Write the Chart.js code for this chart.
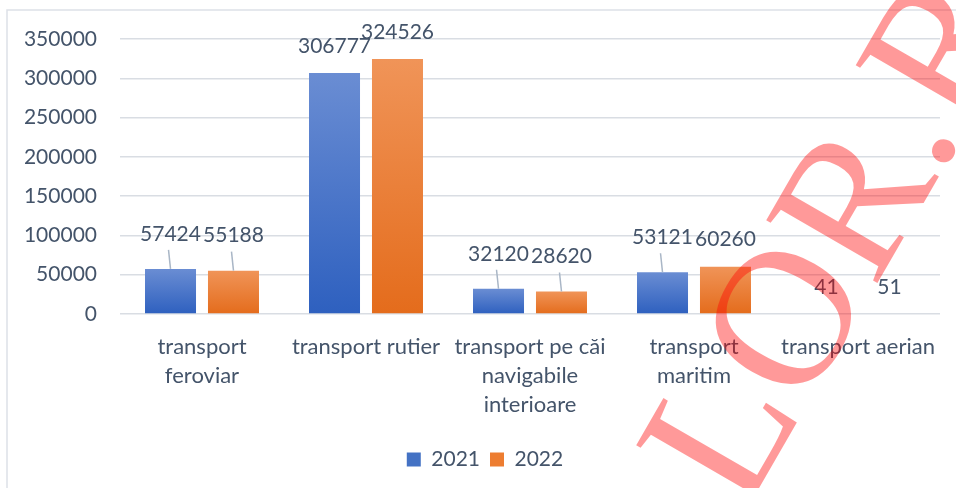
<!DOCTYPE html>
<html>
<head>
<meta charset="utf-8">
<script src="https://cdn.jsdelivr.net/npm/chart.js@4"></script>
<style>
  html, body { margin: 0; padding: 0; background: #fff; }
  #wrap { width: 956px; height: 488px; }
</style>
</head>
<body>
<div id="wrap"><canvas id="grafic" width="956" height="488"></canvas></div>
<script>
const categorii = [
  ['transport', 'feroviar'],
  'transport rutier',
  ['transport pe căi', 'navigabile', 'interioare'],
  ['transport', 'maritim'],
  'transport aerian'
];
const ani = ['2021', '2022'];
const valori2021 = [57424, 306777, 32120, 53121, 41];
const valori2022 = [55188, 324526, 28620, 60260, 51];
const tickuriY = [0, 50000, 100000, 150000, 200000, 250000, 300000, 350000];

const textColor = '#44546a';
const font = "Lato, 'Open Sans', sans-serif";

// gradient per bara, de sus (deschis) in jos (inchis)
function gradient(ctx, sus, jos) {
  const chart = ctx.chart;
  const y = chart.scales.y;
  if (!y || ctx.raw == null) return jos;
  const top = y.getPixelForValue(ctx.raw);
  const base = y.getPixelForValue(0);
  if (base - top < 0.5) return 'rgba(0,0,0,0)';
  const g = chart.ctx.createLinearGradient(0, top, 0, base);
  g.addColorStop(0, sus);
  g.addColorStop(1, jos);
  return g;
}

// etichete de valori + linii de legatura
const etichete = {
  id: 'etichete',
  afterDatasetsDraw(chart) {
    const c = chart.ctx;
    const leader = [[0, 2, 3], [0, 2]];
    c.save();
    c.font = '21px ' + font;
    c.fillStyle = textColor;
    c.textAlign = 'center';
    c.textBaseline = 'middle';
    chart.data.datasets.forEach((ds, di) => {
      chart.getDatasetMeta(di).data.forEach((bar, i) => {
        const cuLinie = leader[di].includes(i);
        const off = cuLinie ? 35 : 27;
        const yText = bar.y - off;
        c.fillText(ds.data[i], bar.x, yText);
        if (cuLinie) {
          c.strokeStyle = '#a9b6c6';
          c.lineWidth = 1.5;
          c.beginPath();
          c.moveTo(bar.x - 2, yText + 16);
          c.lineTo(bar.x, bar.y);
          c.stroke();
        }
      });
    });
    c.restore();
  }
};

// chenarul graficului
const chenar = {
  id: 'chenar',
  beforeDraw(chart) {
    const c = chart.ctx;
    c.save();
    c.strokeStyle = '#dde1e7';
    c.lineWidth = 1.5;
    c.beginPath();
    c.moveTo(7, 488);
    c.lineTo(7, 10);
    c.lineTo(956, 10);
    c.stroke();
    c.restore();
  }
};

// legenda putin mutata spre dreapta
const legendaMutata = {
  id: 'legendaMutata',
  afterLayout(chart) {
    const lg = chart.legend;
    if (!lg) return;
    lg.left += 15;
    lg.right += 15;
  }
};

// filigran
const filigran = {
  id: 'filigran',
  afterDraw(chart) {
    const c = chart.ctx;
    c.save();
    c.translate(744, 514);
    c.rotate(-60 * Math.PI / 180);
    c.font = "195px 'Liberation Serif', serif";
    c.fillStyle = 'rgba(255, 0, 0, 0.4)';
    c.textBaseline = 'alphabetic';
    c.fillText('LOR.RO', 0, 0);
    c.restore();
  }
};

const canvas = document.getElementById('grafic');

new Chart(canvas, {
  type: 'bar',
  data: {
    labels: categorii,
    datasets: [
      {
        label: ani[0],
        data: valori2021,
        backgroundColor: (ctx) => gradient(ctx, '#6a8dd3', '#2e60bf'),
        categoryPercentage: 0.768,
        barPercentage: 0.81,
        inflateAmount: 0
      },
      {
        label: ani[1],
        data: valori2022,
        backgroundColor: (ctx) => gradient(ctx, '#f09458', '#e46c1c'),
        categoryPercentage: 0.768,
        barPercentage: 0.81,
        inflateAmount: 0
      }
    ]
  },
  options: {
    responsive: false,
    animation: false,
    layout: { padding: { top: 39, right: 16, left: 0, bottom: 8 } },
    plugins: {
      legend: {
        position: 'bottom',
        labels: {
          boxWidth: 14,
          boxHeight: 14,
          padding: 10,
          color: textColor,
          font: { family: font, size: 21 },
          generateLabels(chart) {
            const cul = ['#4472c4', '#ed7d31'];
            return chart.data.datasets.map((ds, i) => ({
              text: ds.label,
              fillStyle: cul[i],
              strokeStyle: cul[i],
              lineWidth: 0,
              fontColor: textColor,
              datasetIndex: i
            }));
          }
        }
      },
      tooltip: { enabled: false }
    },
    scales: {
      x: {
        grid: { display: false },
        border: { display: false },
        ticks: {
          color: textColor,
          font: { family: font, size: 22, lineHeight: 1.3 },
          maxRotation: 0,
          autoSkip: false,
          padding: 11
        },
        afterFit(scale) { scale.height = 125; }
      },
      y: {
        min: 0,
        max: 350000,
        afterBuildTicks(scale) { scale.ticks = tickuriY.map(v => ({ value: v })); },
        grid: { color: '#d9dde3', lineWidth: 1.5, drawTicks: false },
        border: { display: false },
        ticks: {
          color: textColor,
          font: { family: font, size: 21 },
          padding: 23,
          callback: (v) => String(v)
        },
        afterFit(scale) { scale.width = 120; }
      }
    }
  },
  plugins: [chenar, legendaMutata, etichete, filigran]
});
</script>
</body>
</html>
